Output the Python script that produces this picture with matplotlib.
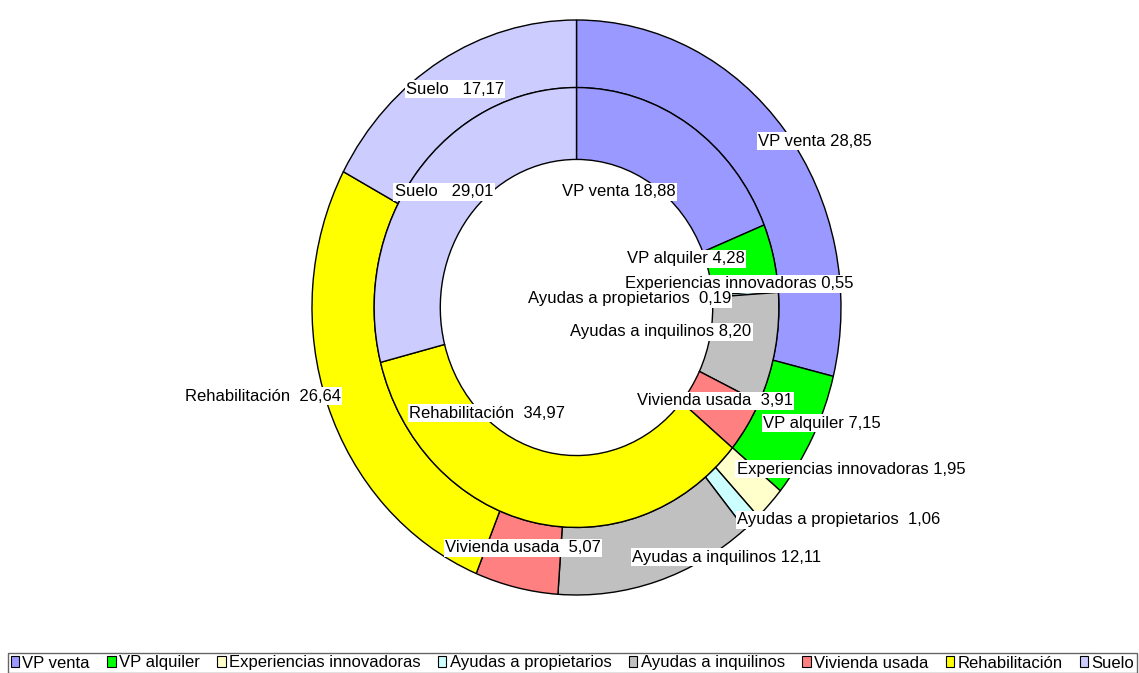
import matplotlib
matplotlib.use("Agg")
import matplotlib.pyplot as plt
from matplotlib.patches import Patch

plt.rcParams['font.family'] = ['Liberation Sans', 'DejaVu Sans']

# Categories and shares (%) for the two rings
categories = ["VP venta", "VP alquiler", "Experiencias innovadoras",
              "Ayudas a propietarios", "Ayudas a inquilinos",
              "Vivienda usada", "Rehabilitación", "Suelo"]
outer_values = [28.85, 7.15, 1.95, 1.06, 12.11, 5.07, 26.64, 17.17]
inner_values = [18.88, 4.28, 0.55, 0.19, 8.20, 3.91, 34.97, 29.01]

colors = ["#9999FF", "#00FF00", "#FFFFCC", "#CCFFFF",
          "#C0C0C0", "#FF8080", "#FFFF00", "#CCCCFF"]

# gap between name and value in the data labels
label_gaps = [" ", " ", " ", "  ", " ", "  ", "  ", "   "]

# label anchor points (axes data units, ellipse radius = 1)
outer_label_pos = [(0.902, 0.579), (0.928, -0.402), (1.038, -0.562),
                   (0.992, -0.739), (0.569, -0.868), (-0.202, -0.836),
                   (-1.185, -0.308), (-0.459, 0.760)]
inner_label_pos = [(0.161, 0.402), (0.414, 0.169), (0.614, 0.082),
                   (0.200, 0.030), (0.319, -0.085), (0.524, -0.325),
                   (-0.338, -0.367), (-0.501, 0.402)]

R_OUT, R_MID, R_HOLE = 1.0, 0.765, 0.515
FS = 12

W, H = 1139, 673
fig = plt.figure(figsize=(W / 100, H / 100), dpi=100)
ax = fig.add_axes([312 / W, (H - 595) / H, 529 / W, 575 / H])

edge = dict(edgecolor="black", linewidth=1.0)
ax.pie(outer_values, radius=R_OUT, colors=colors, startangle=90,
       counterclock=False, wedgeprops=dict(width=R_OUT - R_MID, **edge))
ax.pie(inner_values, radius=R_MID, colors=colors, startangle=90,
       counterclock=False, wedgeprops=dict(width=R_MID - R_HOLE, **edge))
ax.set_aspect("auto")
ax.set_xlim(-1, 1)
ax.set_ylim(-1, 1)
ax.axis("off")


def fmt(v):
    return f"{v:.2f}".replace(".", ",")


box = dict(facecolor="white", edgecolor="none", pad=1.0)
for name, gap, v, (x, y) in zip(categories, label_gaps, outer_values, outer_label_pos):
    ax.text(x, y, f"{name}{gap}{fmt(v)}", ha="center", va="center",
            fontsize=FS, color="black", bbox=box, clip_on=False)
for name, gap, v, (x, y) in zip(categories, label_gaps, inner_values, inner_label_pos):
    ax.text(x, y, f"{name}{gap}{fmt(v)}", ha="center", va="center",
            fontsize=FS, color="black", bbox=box, clip_on=False)

handles = [Patch(facecolor=c, edgecolor="black", linewidth=0.8) for c in colors]
leg = fig.legend(handles, categories, loc="upper left", ncol=8, mode="expand",
                 bbox_to_anchor=(8 / W, 1 - 653 / H, 1129 / W, 0),
                 bbox_transform=fig.transFigure, fontsize=FS,
                 frameon=True, fancybox=False, shadow=False,
                 handlelength=0.5, handleheight=0.6, handletextpad=0.2,
                 columnspacing=0.5, borderpad=0.15, borderaxespad=0)
leg.get_frame().set_edgecolor("#404040")
leg.get_frame().set_linewidth(1.0)

fig.savefig("out.png", dpi=100, facecolor="white")
